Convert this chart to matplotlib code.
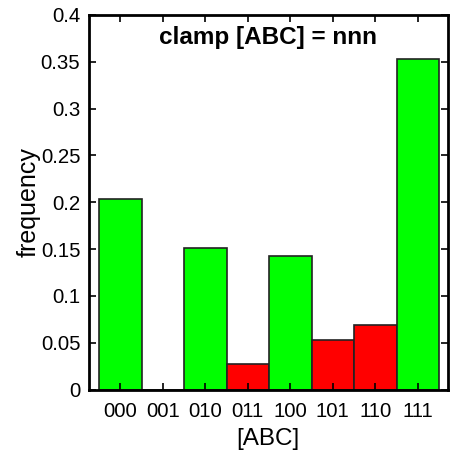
import matplotlib
matplotlib.use("Agg")
import matplotlib.pyplot as plt
import numpy as np

plt.rcParams['font.family'] = ['Liberation Sans', 'DejaVu Sans']

states = ["000", "001", "010", "011", "100", "101", "110", "111"]
freq = [0.204, 0.0, 0.151, 0.027, 0.143, 0.053, 0.069, 0.353]
colors = ["#00ff00", "#00ff00", "#00ff00", "#ff0000",
          "#00ff00", "#ff0000", "#ff0000", "#00ff00"]

fig = plt.figure(figsize=(4.61, 4.5), dpi=100)
ax = fig.add_axes([88.7 / 461, 1 - 389.6 / 450, (448 - 88.7) / 461, (389.6 - 15) / 450])

x = np.arange(1, len(states) + 1)
ax.bar(x, freq, width=1.0, color=colors, edgecolor="#222222", linewidth=1.2)

ax.set_xlim(0.255, 8.71)
ax.set_ylim(0, 0.4)
ax.set_xticks(x)
ax.set_xticklabels(states)
ax.set_yticks(np.arange(0, 0.41, 0.05))
ax.set_yticklabels(["0", "0.05", "0.1", "0.15", "0.2", "0.25", "0.3", "0.35", "0.4"])
ax.tick_params(direction="in", top=True, right=True, length=5, width=1.2,
               labelsize=14.7, pad=6)
ax.tick_params(axis="x", pad=9)
for s in ax.spines.values():
    s.set_linewidth(2)

ax.set_xlabel("[ABC]", fontsize=17.5, labelpad=5)
ax.set_ylabel("frequency", fontsize=18, labelpad=0)
ax.text(0.5, 0.94, "clamp [ABC] = nnn", transform=ax.transAxes,
        ha="center", va="center", fontsize=17.5, fontweight="bold")

fig.savefig("out.png", dpi=100)
